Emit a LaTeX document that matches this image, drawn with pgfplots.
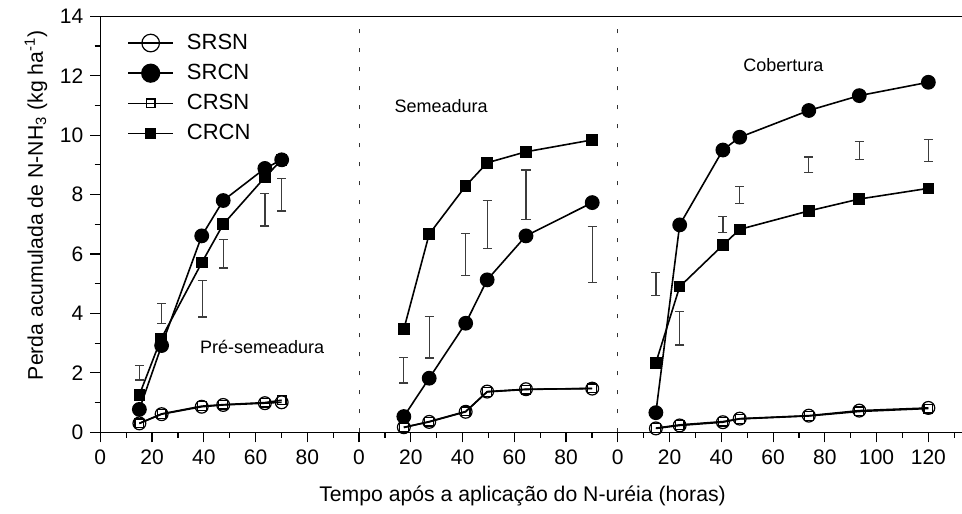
\documentclass[border=0pt]{standalone}
\usepackage{fontspec}
\setmainfont{Liberation Sans}
\usepackage{pgfplots}
\pgfplotsset{compat=1.18}
\usetikzlibrary{calc}
\definecolor{errgray}{HTML}{3C3C3C}

\begin{document}
\begin{tikzpicture}
\begin{axis}[
  scale only axis,
  width=430.85pt, height=208pt,
  xmin=0, xmax=333, ymin=0, ymax=14,
  axis x line=box, axis y line=left,
  axis line style={-, line width=0.75pt},
  xtick pos=left, ytick pos=left,
  tick align=outside,
  major tick length=5pt, minor tick length=2.8pt,
  tick style={black, line width=0.6pt},
  xtick={0,20,40,60,80,100,120,140,160,180,200,220,240,260,280,300,320},
  xticklabels={0,20,40,60,80,0,20,40,60,80,0,20,40,60,80,100,120},
  minor xtick={10,30,...,330},
  ytick={0,2,...,14}, minor ytick={1,3,...,13},
  /pgf/number format/assume math mode=true,
  ticklabel style={font=\fontsize{10.5}{12}\selectfont},
  xlabel={Tempo após a aplicação do N-uréia (horas)},
  xlabel style={at={(rel axis cs:0.49,-0.154)}, anchor=center, font=\fontsize{10.6}{12}\selectfont},
  ylabel={Perda acumulada de N-NH\textsubscript{3} (kg ha\textsuperscript{-1})},
  ylabel style={at={(rel axis cs:-0.0746,0.546)}, anchor=center, font=\fontsize{10.6}{12}\selectfont},
  unbounded coords=jump,
  every axis plot/.append style={line width=0.8pt},
  legend style={draw=none, fill=none, at={(rel axis cs:0.024,0.978)}, anchor=north west,
    font=\fontsize{11}{13}\selectfont, row sep=1.9pt},
  legend cell align=left,
  legend image code/.code={\draw[mark repeat=2, mark phase=2] plot coordinates {(0pt,0pt) (11.25pt,0pt) (22.5pt,0pt)};
    \path (27pt,0pt);},
]
% separadores entre as fases
\draw[black!80, line width=0.5pt, dash pattern=on 2pt off 7.5pt] (axis cs:100,0) -- (axis cs:100,14);
\draw[black!80, line width=0.5pt, dash pattern=on 2pt off 7.5pt] (axis cs:200,0) -- (axis cs:200,14);

% SRSN
\addplot[black, mark=o, mark size=3.2pt, mark options={line width=0.6pt},
  legend image post style={mark size=4.4pt}] coordinates {
  (15.1,0.30) (23.7,0.61) (39.2,0.86) (47.5,0.92) (63.6,0.98) (70.1,1.01)
  (100,nan)
  (117.3,0.17) (127.1,0.35) (141.2,0.69) (149.5,1.37) (164.5,1.45) (190.1,1.47)
  (200,nan)
  (214.7,0.13) (223.9,0.23) (240.6,0.34) (247.1,0.46) (273.8,0.56) (293.3,0.73) (320,0.82)
};
% SRCN
\addplot[black, mark=*, mark size=3.3pt, legend image post style={mark size=4.4pt}] coordinates {
  (15.1,0.77) (23.7,2.92) (39.2,6.61) (47.5,7.80) (63.6,8.88) (70.1,9.17)
  (100,nan)
  (117.3,0.53) (127.1,1.82) (141.2,3.67) (149.5,5.13) (164.5,6.61) (190.1,7.73)
  (200,nan)
  (214.7,0.66) (223.9,6.98) (240.6,9.50) (247.1,9.93) (273.8,10.83) (293.3,11.33) (320,11.78)
};
% CRSN
\addplot[black, mark=square, mark size=2.2pt, mark options={line width=0.6pt}] coordinates {
  (15.1,0.30) (23.7,0.62) (39.2,0.88) (47.5,0.93) (63.6,1.00) (70.1,1.08)
  (100,nan)
  (117.3,0.16) (127.1,0.36) (141.2,0.70) (149.5,1.36) (164.5,1.44) (190.1,1.48)
  (200,nan)
  (214.7,0.14) (223.9,0.25) (240.6,0.36) (247.1,0.45) (273.8,0.55) (293.3,0.70) (320,0.80)
};
% CRCN
\addplot[black, mark=square*, mark size=2.5pt] coordinates {
  (15.1,1.26) (23.4,3.13) (39.3,5.72) (47.5,7.00) (63.6,8.58) (70.1,9.17)
  (100,nan)
  (117.3,3.47) (127.1,6.67) (141.2,8.29) (149.5,9.07) (164.5,9.44) (190.1,9.84)
  (200,nan)
  (214.7,2.34) (223.9,4.90) (240.6,6.30) (247.1,6.83) (273.8,7.45) (293.3,7.85) (320,8.21)
};
\legend{SRSN, SRCN, CRSN, CRCN}

% barras de DMS
\addplot[draw=none, mark=none, forget plot,
  error bars/.cd, y dir=both, y explicit,
  error bar style={draw=errgray, line width=0.65pt},
  error mark options={draw=errgray, line width=0.65pt, mark size=2.3pt, rotate=90}]
  table[x=x, y=y, y error=e] {
  x     y      e
  15.1  2.000  0.240
  23.7  4.005  0.335
  39.4  4.500  0.620
  47.5  6.005  0.475
  63.6  7.490  0.550
  70.1  8.000  0.550
  117.3 2.090  0.430
  127.1 3.195  0.695
  141.2 5.990  0.710
  149.5 6.995  0.805
  164.5 7.990  0.840
  190.1 5.985  0.935
  214.7 4.990  0.390
  223.9 3.500  0.560
  240.6 6.995  0.265
  247.1 7.990  0.280
  273.8 9.005  0.255
  293.3 9.485  0.295
  320.0 9.485  0.365
};

\node[font=\fontsize{9}{11}\selectfont] at (axis cs:62.5,2.87) {Pré-semeadura};
\node[font=\fontsize{9}{11}\selectfont] at (axis cs:131.7,10.98) {Semeadura};
\node[font=\fontsize{9}{11}\selectfont] at (axis cs:264,12.36) {Cobertura};

\coordinate (bl) at (rel axis cs:0,0);
\coordinate (tr) at (rel axis cs:1,1);
\end{axis}
\pgfresetboundingbox
\path[use as bounding box] ($(bl)+(-50.15pt,-40.85pt)$) rectangle ($(tr)+(0pt,8.15pt)$);
\end{tikzpicture}
\end{document}
